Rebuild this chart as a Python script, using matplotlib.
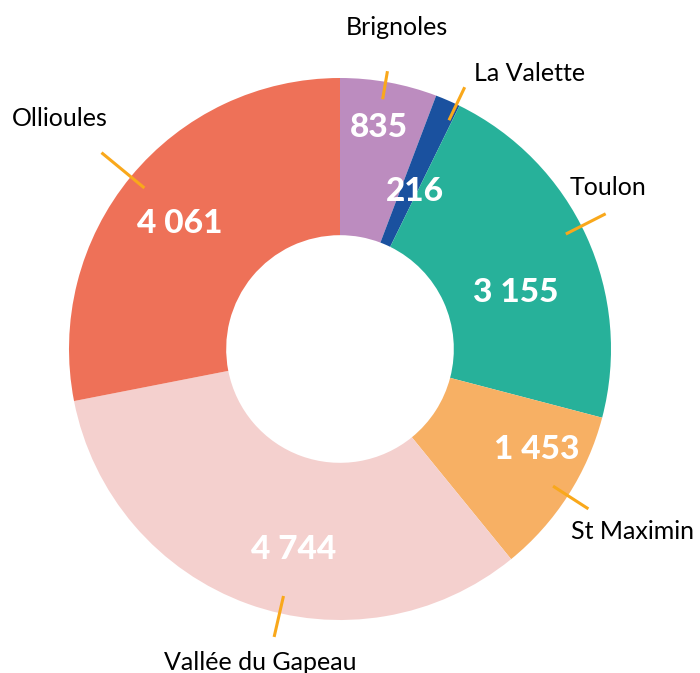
import numpy as np
import matplotlib.pyplot as plt

# data
communes = ["Brignoles", "La Valette", "Toulon", "St Maximin", "Vallée du Gapeau", "Ollioules"]
valeurs = [835, 216, 3155, 1453, 4744, 4061]
couleurs = ["#BC8CBF", "#1A519F", "#27B19A", "#F7B064", "#F4D0CE", "#EE7158"]

# layout tweaks (value label: angle offset, radius / name label position, leader outer radius)
val_dang = [0.5, -2, -6.7, 5.7, 6.7, 1.5]
val_rad = [0.83, 0.645, 0.683, 0.817, 0.758, 0.75]
name_pos = [(0.21, 1.185), (0.70, 1.015), (0.99, 0.595), (1.08, -0.675), (-0.295, -1.155), (-1.035, 0.85)]
lead_out = [1.04, 1.07, 1.10, 1.09, 1.09, 1.14]
lead_dang = [0.7, -2, 2.4, 0, 7, 0]

LEAD = "#F9A81B"
R_HOLE = 0.42

W, H = 700, 673
cx, cy, R = 340, 349, 271

fig = plt.figure(figsize=(W / 100, H / 100), dpi=100)
ax = fig.add_axes([0, 0, 1, 1])

wedges, _ = ax.pie(valeurs, colors=couleurs, startangle=90, counterclock=False,
                   radius=1, wedgeprops=dict(width=1 - R_HOLE, linewidth=0))

# pie() resets the limits, so set them afterwards
ax.set_xlim(-cx / R, (W - cx) / R)
ax.set_ylim(-(H - cy) / R, cy / R)
ax.set_aspect("equal")
ax.axis("off")

for i, w in enumerate(wedges):
    mid = (w.theta1 + w.theta2) / 2

    # value inside the ring
    a = np.deg2rad(mid + val_dang[i])
    ax.text(val_rad[i] * np.cos(a), val_rad[i] * np.sin(a),
            f"{valeurs[i]:,}".replace(",", " "),
            ha="center", va="center", color="white",
            fontsize=24, fontweight="black", family="Lato")

    # leader line
    a = np.deg2rad(mid + lead_dang[i])
    r1, r2 = 0.935, lead_out[i]
    ax.plot([r1 * np.cos(a), r2 * np.cos(a)], [r1 * np.sin(a), r2 * np.sin(a)],
            color=LEAD, lw=2.2, solid_capstyle="butt")

    # commune name
    x, y = name_pos[i]
    ax.text(x, y, communes[i], ha="center", va="center", color="black",
            fontsize=18, family="Lato")

fig.savefig("out.png", dpi=100, facecolor="white")
